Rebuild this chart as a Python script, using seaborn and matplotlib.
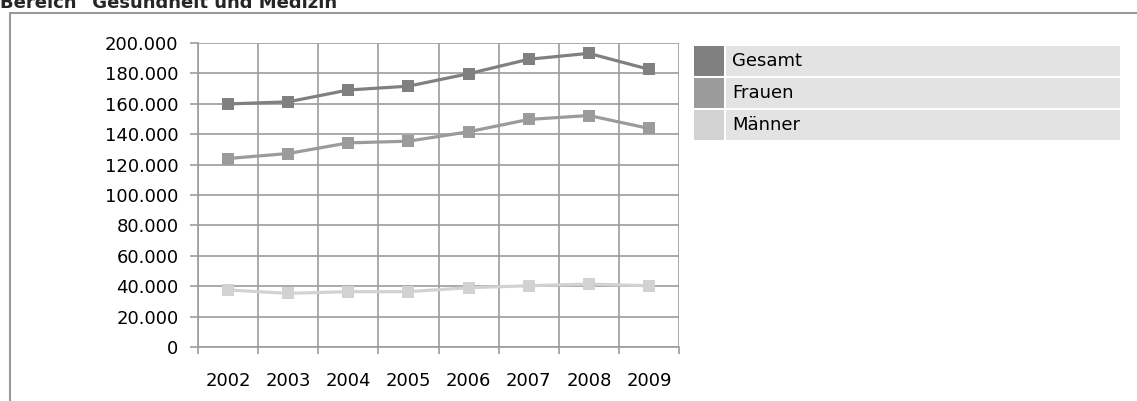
import pandas as pd
import matplotlib.pyplot as plt
import seaborn as sns
from matplotlib.lines import Line2D
from matplotlib.patches import Rectangle
from matplotlib.ticker import FuncFormatter, MultipleLocator

# === DATA ===
years = [2002, 2003, 2004, 2005, 2006, 2007, 2008, 2009]
gesamt = [159900, 161300, 169100, 171600, 179800, 189300, 193200, 182700]
frauen = [124000, 127300, 134300, 135400, 141600, 149700, 152300, 143800]
maenner = [37500, 35300, 36400, 36400, 39000, 40300, 41400, 40300]
series_names = ["Gesamt", "Frauen", "Männer"]
series_colors = ["#808080", "#9b9b9b", "#d2d2d2"]
title = 'Bereich "Gesundheit und Medizin"'

W, H = 1137, 401
GRID = "#a19b9b"

df = pd.DataFrame({
    "Jahr": years * 3,
    "Wert": gesamt + frauen + maenner,
    "Reihe": [n for n in series_names for _ in years],
})

sns.set_theme(style="white")
plt.rcParams["font.family"] = ["DejaVu Sans"]

fig = plt.figure(figsize=(W / 100, H / 100), dpi=100)
ax = fig.add_axes([198 / W, 1 - 347 / H, 481 / W, 304 / H])

sns.lineplot(data=df, x="Jahr", y="Wert", hue="Reihe", style="Reihe",
             palette=dict(zip(series_names, series_colors)),
             markers=["s", "s", "s"], dashes=False, linewidth=2.3,
             markersize=8, markeredgewidth=0, legend=False, ax=ax, zorder=3)

ax.set_xlim(years[0] - 0.5, years[-1] + 0.5)
ax.set_ylim(0, 200000)
ax.yaxis.set_major_locator(MultipleLocator(20000))
ax.yaxis.set_major_formatter(FuncFormatter(lambda v, p: f"{int(v):,}".replace(",", ".")))
ax.set_xticks(years)
ax.set_xticklabels([str(y) for y in years])
ax.set_xticks([y + 0.5 for y in [years[0] - 1] + years], minor=True)

ax.grid(True, axis="y", which="major", color=GRID, lw=1.2)
ax.grid(True, axis="x", which="minor", color=GRID, lw=1.2)
ax.grid(False, axis="x", which="major")
ax.set_axisbelow(True)
for side in ["top", "right"]:
    ax.spines[side].set_visible(False)
for side in ["left", "bottom"]:
    ax.spines[side].set_color(GRID)
    ax.spines[side].set_linewidth(1.2)

ax.tick_params(axis="y", which="major", left=True, length=6, width=1.2, color=GRID,
               pad=8, labelsize=13, labelcolor="black")
ax.tick_params(axis="x", which="major", bottom=False, length=0, pad=18,
               labelsize=13, labelcolor="black")
ax.tick_params(axis="x", which="minor", bottom=True, length=5, width=1.2, color=GRID)
ax.set_xlabel("")
ax.set_ylabel("")

# legend block
for i, (name, col) in enumerate(zip(series_names, series_colors)):
    top = 46 + i * 32
    fig.add_artist(Rectangle((694 / W, 1 - (top + 30) / H), 30 / W, 30 / H,
                             transform=fig.transFigure, color=col, lw=0))
    fig.add_artist(Rectangle((726 / W, 1 - (top + 30) / H), 394 / W, 30 / H,
                             transform=fig.transFigure, color="#e3e3e3", lw=0))
    fig.text(732 / W, 1 - (top + 15) / H, name, fontsize=13, va="center", ha="left",
             color="black")

# outer frame and title
fig.add_artist(Line2D([10 / W, 10 / W], [0, 1 - 13 / H], transform=fig.transFigure,
                      color="#999999", lw=1.5))
fig.add_artist(Line2D([10 / W, 1], [1 - 13 / H, 1 - 13 / H], transform=fig.transFigure,
                      color="#999999", lw=1.5))
fig.text(0, 1 - 8 / H, title, fontsize=13, fontweight="bold", va="baseline", ha="left")

fig.savefig("out.png", dpi=100)
